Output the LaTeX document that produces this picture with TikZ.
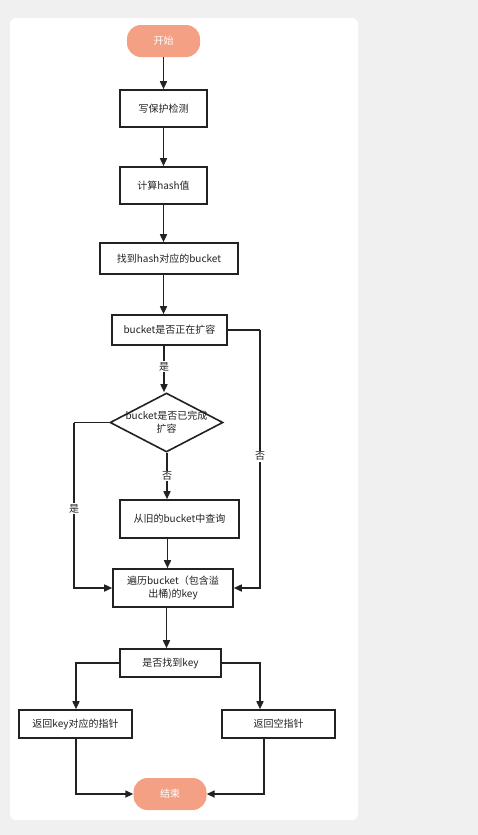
\documentclass[tikz,border=0pt]{standalone}
\usepackage{fontspec}
\setmainfont{Noto Sans CJK SC}
\usetikzlibrary{shapes.geometric,arrows.meta}
\definecolor{salmon}{HTML}{F4A085}
\definecolor{ink}{HTML}{222222}
\begin{document}
\begin{tikzpicture}[x=1pt,y=-1pt,
  box/.style={draw=ink,line width=1.6pt,fill=white,inner sep=0pt,font=\fontsize{10}{13}\selectfont,text=ink,align=center},
  term/.style={fill=salmon,rounded corners=14pt,inner sep=0pt,minimum width=73pt,minimum height=32pt,text=white,font=\fontsize{10}{12}\selectfont},
  dia/.style={diamond,draw=ink,line width=1.6pt,fill=white,inner sep=0pt,minimum width=113pt,minimum height=59pt},
  diatext/.style={font=\fontsize{10}{13}\selectfont,align=center,text=ink,inner sep=0pt},
  arr/.style={draw=ink,line width=1.6pt,-{Triangle[length=8pt,width=7pt]}},
  lin/.style={draw=ink,line width=1.6pt},
  lbl/.style={fill=white,inner sep=1pt,font=\fontsize{10}{12}\selectfont,text=ink}]
\useasboundingbox (0,0) rectangle (478,835);
\fill[black!6] (0,0) rectangle (478,835);
\fill[white,rounded corners=6pt] (10,18) rectangle (358,820);

\node[term] (start) at (163.5,41) {开始};
\node[box,minimum width=87pt,minimum height=37pt] (wp) at (163.5,108.5) {写保护检测};
\node[box,minimum width=87pt,minimum height=37pt] (hash) at (163.5,185.5) {计算hash值};
\node[box,minimum width=138pt,minimum height=31pt] (find) at (169,258.5) {找到hash对应的bucket};
\node[box,minimum width=115pt,minimum height=30pt] (grow) at (169.5,330) {bucket是否正在扩容};
\node[dia] (done) at (166.5,422.5) {};
\node[diatext] (donetext) at (done.center) {bucket是否已完成\\扩容};
\node[box,minimum width=119pt,minimum height=38pt] (old) at (179.5,519) {从旧的bucket中查询};
\node[box,minimum width=120pt,minimum height=38pt] (walk) at (173,588) {遍历bucket（包含溢\\出桶)的key};
\node[box,minimum width=101pt,minimum height=28pt] (found) at (170.5,663) {是否找到key};
\node[box,minimum width=113pt,minimum height=28pt] (retk) at (75.5,724) {返回key对应的指针};
\node[box,minimum width=113pt,minimum height=28pt] (retn) at (278.5,724) {返回空指针};
\node[term] (end) at (170,794) {结束};

\coordinate (c1) at (74,422.5);
\coordinate (c2) at (74,588);
\coordinate (c3) at (260,330);
\coordinate (c4) at (260,588);
\coordinate (c5) at (76,663);
\coordinate (c6) at (260,663);
\coordinate (c7) at (76,794);
\coordinate (c8) at (264,794);

\draw[arr] (start.south -| 163.5,0) -- (wp.north -| 163.5,0);
\draw[arr] (wp.south -| 163.5,0) -- (hash.north -| 163.5,0);
\draw[arr] (hash.south -| 163.5,0) -- (find.north -| 163.5,0);
\draw[arr] (find.south -| 163.5,0) -- (grow.north -| 163.5,0);
\draw[arr] (grow.south -| 164,0) -- node[lbl,pos=0.45]{是} (done.north -| 164,0);
\draw[arr] (done.south -| 167,0) -- node[lbl,pos=0.5]{否} (old.north -| 167,0);
\draw[arr] (old.south -| 167.5,0) -- (walk.north -| 167.5,0);
\draw[lin] (done.west) -- (c1);
\draw[arr] (c1) -- node[lbl,pos=0.52]{是} (c2) -- (walk.west);
\draw[lin] (grow.east) -- (c3);
\draw[arr] (c3) -- node[lbl,pos=0.49]{否} (c4) -- (walk.east);
\draw[arr] (walk.south -| 166.5,0) -- (found.north -| 166.5,0);
\draw[arr] (found.west) -- (c5) -- (retk.north -| c5);
\draw[arr] (found.east) -- (c6) -- (retn.north -| c6);
\draw[arr] (retk.south -| c7) -- (c7) -- (end.west);
\draw[arr] (retn.south -| c8) -- (c8) -- (end.east);
\end{tikzpicture}
\end{document}
